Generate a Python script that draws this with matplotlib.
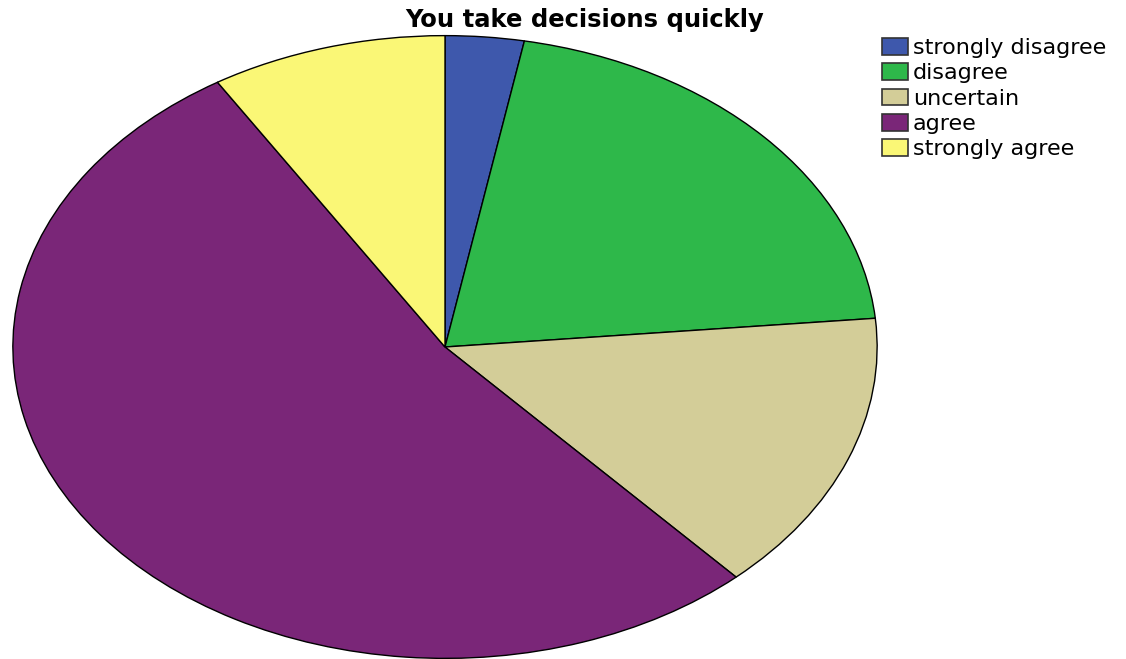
import matplotlib.pyplot as plt
from matplotlib.patches import Patch

# answer counts, in the order they go round the pie (clockwise from 12 o'clock)
categorias = ['strongly disagree', 'disagree', 'uncertain', 'agree', 'strongly agree']
conteos = [1, 7, 5, 18, 3]
colores = ['#3E58AC', '#2EB84A', '#D3CD98', '#7A2678', '#FAF776']
titulo = 'You take decisions quickly'

fig = plt.figure(figsize=(11.26, 6.59), dpi=100)
ax = fig.add_axes([12 / 1126, 0, 866 / 1126, 624 / 659])

ax.pie(conteos, colors=colores, startangle=90, counterclock=False,
       wedgeprops={'edgecolor': 'black', 'linewidth': 1.0})
# stretched pie, like the SPSS output
ax.set_aspect('auto')
ax.set_xlim(-1.002, 1.002)
ax.set_ylim(-1.002, 1.002)
ax.axis('off')

fig.text(585 / 1126, 1 - 20 / 659, titulo, ha='center', va='center',
         fontsize=17.5, fontweight='bold')

manijas = [Patch(facecolor=c, edgecolor='#333333', linewidth=1.2) for c in colores]
fig.legend(manijas, categorias, loc='upper left', bbox_to_anchor=(882 / 1126, 1 - 38 / 659),
           frameon=False, fontsize=16, handlelength=1.17, handleheight=0.77,
           handletextpad=0.22, labelspacing=0.24, borderaxespad=0, borderpad=0)

fig.savefig('out.png', dpi=100)
